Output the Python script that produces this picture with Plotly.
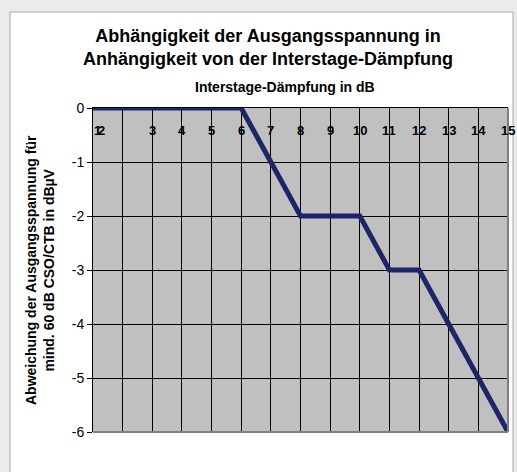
import plotly.graph_objects as go

# Interstage attenuation (dB) and the resulting output-voltage deviation (dBµV)
daempfung_db = [1, 2, 3, 4, 5, 6, 7, 8, 9, 10, 11, 12, 13, 14, 15]
abweichung_dbuv = [0, 0, 0, 0, 0, 0, -1, -2, -2, -2, -3, -3, -4, -5, -6]

x_grid_values = [1, 2, 3, 4, 5, 6, 7, 8, 9, 10, 11, 12, 13, 14, 15]
x_label_values = [1, 1, 3, 4, 5, 6, 7, 8, 9, 10, 11, 12, 13, 14, 15]
x_label_texts = ["1", "2", "3", "4", "5", "6", "7", "8", "9", "10", "11", "12", "13", "14", "15"]
y_tick_values = [0, -1, -2, -3, -4, -5, -6]
y_tick_labels = ["0", "-1", "-2", "-3", "-4", "-5", "-6"]

W, H = 517, 472
L, R, T, B = 93, 9, 108, 40
pw, ph = W - L - R, H - T - B


def px_x(x):
    return (x - L) / pw


def px_y(y):
    return 1 - (y - T) / ph


FONT = "Liberation Sans, Arial, sans-serif"

fig = go.Figure()
fig.add_trace(go.Scatter(
    x=daempfung_db, y=abweichung_dbuv, mode="lines",
    line=dict(color="#1F2468", width=5),
    cliponaxis=False, showlegend=False, hoverinfo="skip",
))

# x tick labels sit inside the plot, just under the top axis line;
# the first two labels crowd together at the left edge
first_shift = {0: -1, 1: 3}
annotations = [
    dict(text=f"<b>{t}</b>", x=v, y=0, xref="x", yref="y",
         xanchor="left" if i in first_shift else "center", yanchor="top",
         xshift=first_shift.get(i, 0), yshift=-13,
         showarrow=False, font=dict(size=13, family=FONT))
    for i, (v, t) in enumerate(zip(x_label_values, x_label_texts))
]
annotations += [
    dict(text="<b>Abhängigkeit der Ausgangsspannung in<br>Anhängigkeit von der Interstage-Dämpfung</b>",
         xref="paper", yref="paper", x=px_x(268), y=px_y(47),
         xanchor="center", yanchor="middle", showarrow=False,
         font=dict(size=18, family=FONT), align="center"),
    dict(text="<b>Interstage-Dämpfung in dB</b>",
         xref="paper", yref="paper", x=px_x(285), y=px_y(87),
         xanchor="center", yanchor="middle", showarrow=False,
         font=dict(size=14, family=FONT)),
    dict(text="<b>Abweichung der Ausgangsspannung für<br>mind. 60 dB CSO/CTB in dBµV</b>",
         xref="paper", yref="paper", x=px_x(40), y=px_y(270),
         xanchor="center", yanchor="middle", showarrow=False,
         textangle=-90, font=dict(size=14, family=FONT), align="center"),
]

fig.update_layout(
    width=W, height=H,
    margin=dict(l=L, r=R, t=T, b=B),
    paper_bgcolor="#EBEBEB",
    plot_bgcolor="#C0C0C0",
    font=dict(family=FONT, color="black"),
    xaxis=dict(
        range=[1, 15], side="top",
        tickvals=x_grid_values, showticklabels=False, ticks="",
        showgrid=True, gridcolor="black", gridwidth=1,
        showline=True, linecolor="black", linewidth=1,
        zeroline=False, fixedrange=True,
    ),
    yaxis=dict(
        range=[-6, 0],
        tickvals=y_tick_values, ticktext=y_tick_labels,
        ticks="outside", ticklen=5, tickcolor="black",
        tickfont=dict(size=14, family=FONT),
        showgrid=True, gridcolor="black", gridwidth=1,
        showline=True, linecolor="black", linewidth=1,
        zeroline=False, fixedrange=True,
    ),
    shapes=[
        # white chart area on the grey page
        dict(type="rect", xref="paper", yref="paper", layer="below",
             x0=px_x(10), x1=px_x(513), y0=px_y(480), y1=px_y(12),
             fillcolor="white", line=dict(color="#A8A8A8", width=1)),
        # grey plot area
        dict(type="rect", xref="paper", yref="paper", layer="below",
             x0=0, x1=1, y0=0, y1=1,
             fillcolor="#C0C0C0", line=dict(width=0)),
        # grey right and bottom frame of the plot area
        dict(type="line", xref="paper", yref="paper",
             x0=1, x1=1, y0=0, y1=1, line=dict(color="#808080", width=2)),
        dict(type="line", xref="paper", yref="paper",
             x0=0, x1=1, y0=0, y1=0, line=dict(color="#808080", width=2)),
    ],
    annotations=annotations,
)

fig.write_html("out.html")
